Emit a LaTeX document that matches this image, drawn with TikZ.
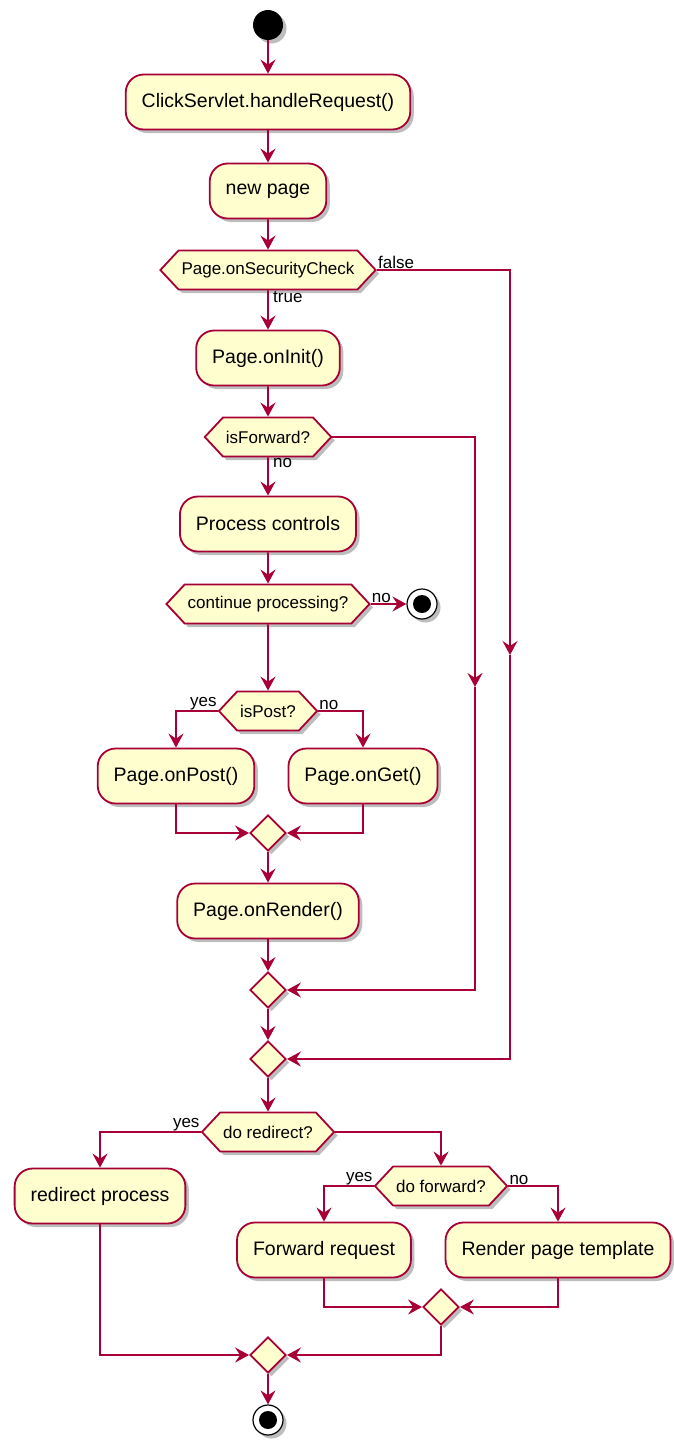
\documentclass[tikz,border=0pt]{standalone}
\usepackage{fontspec}
\setmainfont{Liberation Sans}
\usetikzlibrary{arrows.meta,shapes.geometric,shapes.symbols,shadows}
\definecolor{umlfill}{RGB}{254,254,206}
\definecolor{umlline}{RGB}{168,0,54}
\definecolor{umlshade}{RGB}{110,110,110}

\begin{document}
\begin{tikzpicture}[
  x=1pt, y=-1pt,
  font=\fontsize{19.5}{23}\selectfont,
  shade3/.style={drop shadow={opacity=0.45, fill=umlshade, shadow xshift=3.5pt, shadow yshift=-3.5pt}},
  act/.style={draw=umlline, fill=umlfill, line width=1.8pt, rounded corners=18pt, minimum height=55pt, inner xsep=16pt, shade3},
  choice/.style={draw=umlline, fill=umlfill, line width=1.8pt, signal, signal to=east and west, signal pointer angle=94, minimum height=39pt, inner xsep=3pt, inner ysep=0pt, font=\fontsize{17}{20}\selectfont, shade3},
  merge/.style={draw=umlline, fill=umlfill, line width=1.8pt, diamond, minimum size=36pt, inner sep=0pt, shade3},
  flow/.style={draw=umlline, line width=1.8pt, -{Stealth[length=14pt,width=15pt,inset=5pt]}},
  guard/.style={font=\fontsize{17}{20}\selectfont, inner sep=1pt},
  startdot/.style={circle, fill=black, minimum size=30pt, inner sep=0pt, shade3},
  stopring/.style={circle, draw=black, line width=1.2pt, fill=white, minimum size=30pt, inner sep=0pt, shade3,
    path picture={\fill[black] (path picture bounding box.center) circle (9pt);}}
]
\fill[white] (0,0) rectangle (673,1443);
\useasboundingbox (0,0) rectangle (673,1443);

% main column
\node[startdot] (start) at (268,25) {};
\node[act] (handle) at (268,102) {ClickServlet.handleRequest()};
\node[act] (newpage) at (268,191) {new page};
\node[choice] (sec) at (268,270) {Page.onSecurityCheck};
\node[act] (oninit) at (268,358) {Page.onInit()};
\node[choice] (isfwd) at (268,437) {isForward?};
\node[act] (proc) at (268,524) {Process controls};
\node[choice] (cont) at (268,604) {continue processing?};
\node[stopring] (stop1) at (422,604) {};
\node[choice] (ispost) at (268,711) {isPost?};
\node[act] (onpost) at (176,776) {Page.onPost()};
\node[act] (onget) at (363,776) {Page.onGet()};
\node[merge] (m1) at (268,833) {};
\node[act] (onrender) at (268,911) {Page.onRender()};
\node[merge] (m2) at (268,990) {};
\node[merge] (m3) at (268,1059) {};

% redirect / forward part
\node[choice] (redir) at (268,1132) {do redirect?};
\node[act] (redirproc) at (100,1196) {redirect process};
\node[choice] (dofwd) at (441,1186) {do forward?};
\node[act] (fwdreq) at (324,1250) {Forward request};
\node[act] (render) at (558,1250) {Render page template};
\node[merge] (m4) at (441,1307) {};
\node[merge] (m5) at (268,1355) {};
\node[stopring] (stop2) at (268,1420) {};

% guards
\node[guard, anchor=south west] (gfalse) at (sec.east) {false};
\node[guard, anchor=north west] (gtrue) at ([xshift=4pt]sec.south) {true};
\node[guard, anchor=north west] (gfwdno) at ([xshift=4pt]isfwd.south) {no};
\node[guard, anchor=south west] (gcontno) at (cont.east) {no};
\node[guard, anchor=south east] (gpostyes) at (ispost.west) {yes};
\node[guard, anchor=south west] (gpostno) at (ispost.east) {no};
\node[guard, anchor=south east] (gredyes) at (redir.west) {yes};
\node[guard, anchor=south east] (gfwdyes) at (dofwd.west) {yes};
\node[guard, anchor=south west] (gfwdnot) at (dofwd.east) {no};

\coordinate (falsemid) at (510,655);
\coordinate (fwdmid) at (475,687);

\draw[flow] (start) -- (handle);
\draw[flow] (handle) -- (newpage);
\draw[flow] (newpage) -- (sec);
\draw[flow] (sec) -- (oninit);
\draw[flow] (sec.east) -| (falsemid);
\draw[flow] (falsemid) |- (m3);
\draw[flow] (oninit) -- (isfwd);
\draw[flow] (isfwd) -- (proc);
\draw[flow] (isfwd.east) -| (fwdmid);
\draw[flow] (fwdmid) |- (m2);
\draw[flow] (proc) -- (cont);
\draw[flow] (cont) -- (stop1);
\draw[flow] (cont) -- (ispost);
\draw[flow] (ispost.west) -| (onpost);
\draw[flow] (ispost.east) -| (onget);
\draw[flow] (onpost) |- (m1);
\draw[flow] (onget) |- (m1);
\draw[flow] (m1) -- (onrender);
\draw[flow] (onrender) -- (m2);
\draw[flow] (m2) -- (m3);
\draw[flow] (m3) -- (redir);
\draw[flow] (redir.west) -| (redirproc);
\draw[flow] (redir.east) -| (dofwd);
\draw[flow] (dofwd.west) -| (fwdreq);
\draw[flow] (dofwd.east) -| (render);
\draw[flow] (fwdreq) |- (m4);
\draw[flow] (render) |- (m4);
\draw[flow] (redirproc) |- (m5);
\draw[flow] (m4) |- (m5);
\draw[flow] (m5) -- (stop2);
\end{tikzpicture}
\end{document}
